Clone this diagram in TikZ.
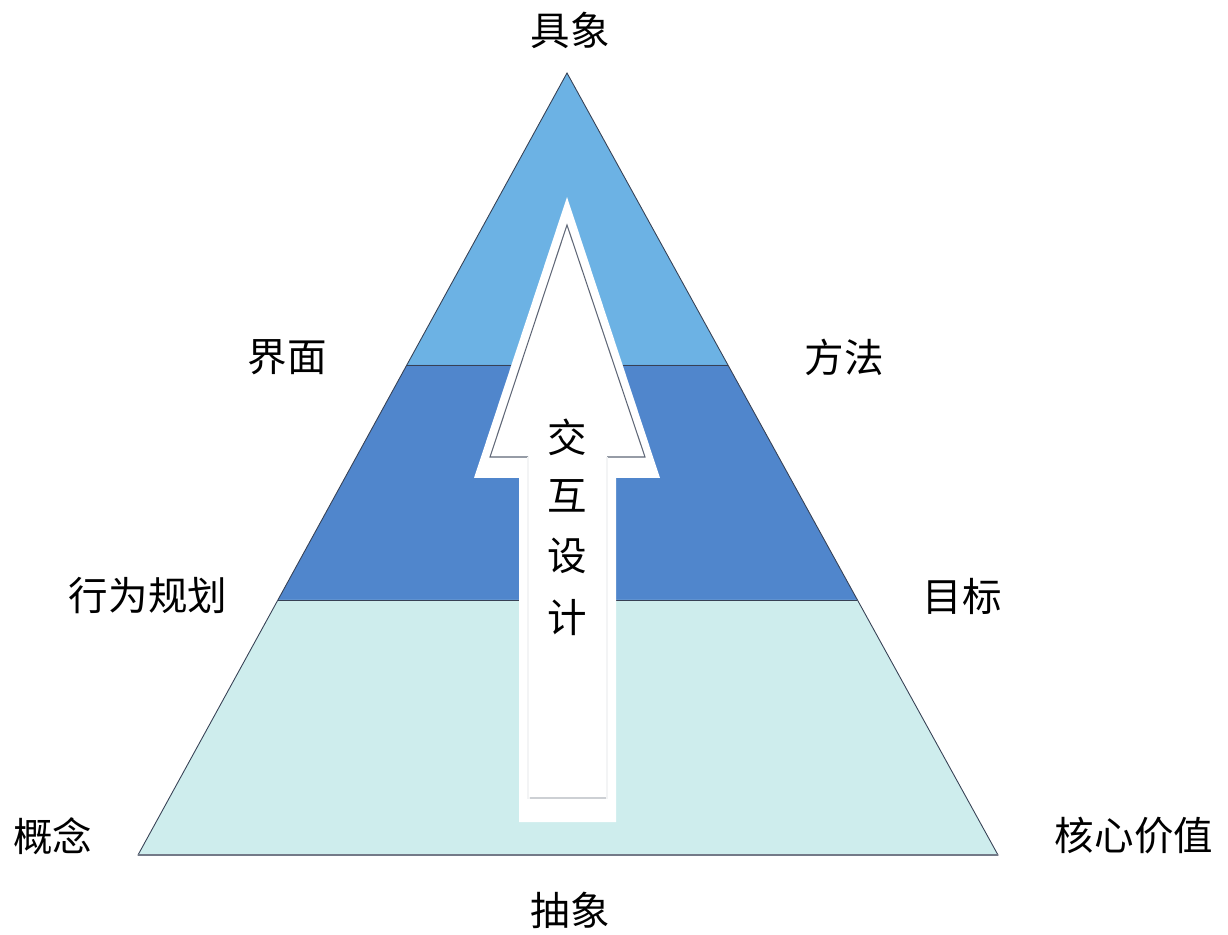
\documentclass[tikz,border=0pt]{standalone}
\usepackage{fontspec}
\setmainfont{Noto Sans CJK SC}
\usetikzlibrary{positioning, calc}
\definecolor{topblue}{RGB}{108,178,228}
\definecolor{midblue}{RGB}{80,134,204}
\definecolor{lowcyan}{RGB}{206,237,237}
\definecolor{edgegray}{RGB}{55,65,85}
\tikzset{
  lbl/.style={font=\fontsize{22.5}{26}\selectfont, inner sep=0pt},
  layer/.style={draw=edgegray, line width=0.5pt}
}

\begin{document}
\begin{tikzpicture}[x=0.02cm, y=-0.02cm]
        \useasboundingbox (0,0) rectangle (1228,935);

        % pyramid corners and layer borders
        \coordinate (apex) at (567,73);
        \coordinate (bl) at (138,855);
        \coordinate (br) at (998,855);
        \coordinate (ul) at ($(apex)!0.3734!(bl)$);
        \coordinate (ur) at ($(apex)!0.3734!(br)$);
        \coordinate (ml) at ($(apex)!0.6739!(bl)$);
        \coordinate (mr) at ($(apex)!0.6739!(br)$);

        \fill[topblue] (apex) -- (ur) -- (ul) -- cycle;
        \fill[midblue] (ul) -- (ur) -- (mr) -- (ml) -- cycle;
        \fill[lowcyan] (ml) -- (mr) -- (br) -- (bl) -- cycle;
        \draw[layer] (ul) -- (ur);
        \draw[layer] (ml) -- (mr);
        \draw[layer] (apex) -- (br) -- (bl) -- cycle;
        \draw[edgegray!70, line width=1.2pt] (bl) -- (br);

        % arrow
        \fill[white] (567,197) -- (660,478) -- (616,478) -- (616,822) -- (519,822) -- (519,478) -- (474,478) -- cycle;
        \draw[edgegray!80, line width=0.6pt] (528,457) -- (490,457) -- (567,225) -- (645,457) -- (607,457);
        \draw[edgegray!6, line width=0.6pt] (528,457) -- (528,798) -- (607,798) -- (607,457);
        \draw[edgegray!25, line width=0.6pt] (530,798) -- (606,798);

        \node[lbl] (jiao) at (567,437) {交};
        \node[lbl] (hu) at (567,496) {互};
        \node[lbl] (she) at (567,556) {设};
        \node[lbl] (ji) at (567,618) {计};

        % side labels
        \node[lbl] (concrete) at (570,30) {具象};
        \node[lbl] (abstract) at (570,910) {抽象};
        \node[lbl] (ui) at (287,357) {界面};
        \node[lbl] (method) at (844,357) {方法};
        \node[lbl] (behave) at (148,596) {行为规划};
        \node[lbl] (goal) at (962,596) {目标};
        \node[lbl] (concept) at (53,836) {概念};
        \node[lbl] (value) at (1134,836) {核心价值};

      \end{tikzpicture}
\end{document}
